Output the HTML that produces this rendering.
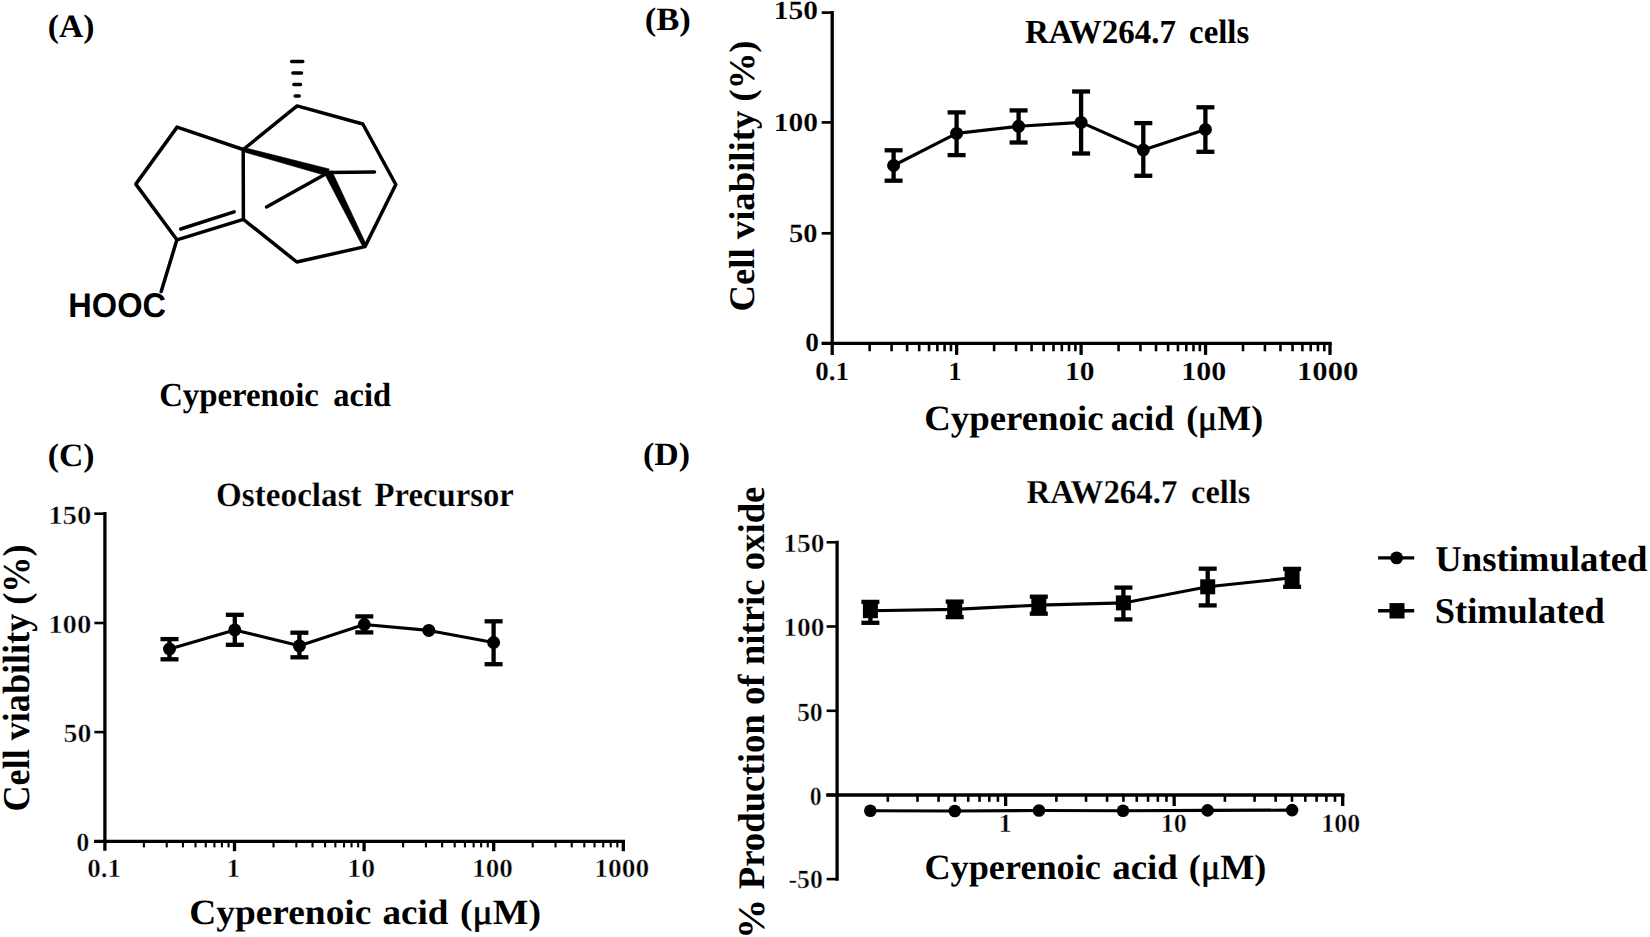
<!DOCTYPE html>
<html lang="en"><head><meta charset="utf-8"><title>Cyperenoic acid figure</title>
<style>
html,body{margin:0;padding:0;background:#fff;}
body{width:1650px;height:937px;overflow:hidden;}
svg{display:block;}
text{font-weight:bold;fill:#000;text-rendering:geometricPrecision;}
</style></head><body>
<svg width="1650" height="937" viewBox="0 0 1650 937">
<rect width="1650" height="937" fill="#fff"/>
<g stroke="#000" fill="none">
<line x1="832.20" y1="10.95" x2="832.20" y2="355.00" stroke-width="3.30" stroke-linecap="butt" />
<line x1="821.70" y1="343.30" x2="1331.70" y2="343.30" stroke-width="3.30" stroke-linecap="butt" />
<line x1="821.70" y1="12.60" x2="832.20" y2="12.60" stroke-width="2.70" stroke-linecap="butt" />
<line x1="821.70" y1="122.40" x2="832.20" y2="122.40" stroke-width="2.70" stroke-linecap="butt" />
<line x1="821.70" y1="233.30" x2="832.20" y2="233.30" stroke-width="2.70" stroke-linecap="butt" />
<line x1="821.70" y1="343.30" x2="832.20" y2="343.30" stroke-width="2.70" stroke-linecap="butt" />
<line x1="956.65" y1="343.30" x2="956.65" y2="354.90" stroke-width="3.30" stroke-linecap="butt" />
<line x1="1081.10" y1="343.30" x2="1081.10" y2="354.90" stroke-width="3.30" stroke-linecap="butt" />
<line x1="1205.55" y1="343.30" x2="1205.55" y2="354.90" stroke-width="3.30" stroke-linecap="butt" />
<line x1="1330.00" y1="343.30" x2="1330.00" y2="354.90" stroke-width="3.30" stroke-linecap="butt" />
<line x1="869.66" y1="343.30" x2="869.66" y2="351.30" stroke-width="2.60" stroke-linecap="butt" />
<line x1="891.58" y1="343.30" x2="891.58" y2="351.30" stroke-width="2.60" stroke-linecap="butt" />
<line x1="907.13" y1="343.30" x2="907.13" y2="351.30" stroke-width="2.60" stroke-linecap="butt" />
<line x1="919.19" y1="343.30" x2="919.19" y2="351.30" stroke-width="2.60" stroke-linecap="butt" />
<line x1="929.04" y1="343.30" x2="929.04" y2="351.30" stroke-width="2.60" stroke-linecap="butt" />
<line x1="937.37" y1="343.30" x2="937.37" y2="351.30" stroke-width="2.60" stroke-linecap="butt" />
<line x1="944.59" y1="343.30" x2="944.59" y2="351.30" stroke-width="2.60" stroke-linecap="butt" />
<line x1="950.96" y1="343.30" x2="950.96" y2="351.30" stroke-width="2.60" stroke-linecap="butt" />
<line x1="994.11" y1="343.30" x2="994.11" y2="351.30" stroke-width="2.60" stroke-linecap="butt" />
<line x1="1016.03" y1="343.30" x2="1016.03" y2="351.30" stroke-width="2.60" stroke-linecap="butt" />
<line x1="1031.58" y1="343.30" x2="1031.58" y2="351.30" stroke-width="2.60" stroke-linecap="butt" />
<line x1="1043.64" y1="343.30" x2="1043.64" y2="351.30" stroke-width="2.60" stroke-linecap="butt" />
<line x1="1053.49" y1="343.30" x2="1053.49" y2="351.30" stroke-width="2.60" stroke-linecap="butt" />
<line x1="1061.82" y1="343.30" x2="1061.82" y2="351.30" stroke-width="2.60" stroke-linecap="butt" />
<line x1="1069.04" y1="343.30" x2="1069.04" y2="351.30" stroke-width="2.60" stroke-linecap="butt" />
<line x1="1075.41" y1="343.30" x2="1075.41" y2="351.30" stroke-width="2.60" stroke-linecap="butt" />
<line x1="1118.56" y1="343.30" x2="1118.56" y2="351.30" stroke-width="2.60" stroke-linecap="butt" />
<line x1="1140.48" y1="343.30" x2="1140.48" y2="351.30" stroke-width="2.60" stroke-linecap="butt" />
<line x1="1156.03" y1="343.30" x2="1156.03" y2="351.30" stroke-width="2.60" stroke-linecap="butt" />
<line x1="1168.09" y1="343.30" x2="1168.09" y2="351.30" stroke-width="2.60" stroke-linecap="butt" />
<line x1="1177.94" y1="343.30" x2="1177.94" y2="351.30" stroke-width="2.60" stroke-linecap="butt" />
<line x1="1186.27" y1="343.30" x2="1186.27" y2="351.30" stroke-width="2.60" stroke-linecap="butt" />
<line x1="1193.49" y1="343.30" x2="1193.49" y2="351.30" stroke-width="2.60" stroke-linecap="butt" />
<line x1="1199.86" y1="343.30" x2="1199.86" y2="351.30" stroke-width="2.60" stroke-linecap="butt" />
<line x1="1243.01" y1="343.30" x2="1243.01" y2="351.30" stroke-width="2.60" stroke-linecap="butt" />
<line x1="1264.93" y1="343.30" x2="1264.93" y2="351.30" stroke-width="2.60" stroke-linecap="butt" />
<line x1="1280.48" y1="343.30" x2="1280.48" y2="351.30" stroke-width="2.60" stroke-linecap="butt" />
<line x1="1292.54" y1="343.30" x2="1292.54" y2="351.30" stroke-width="2.60" stroke-linecap="butt" />
<line x1="1302.39" y1="343.30" x2="1302.39" y2="351.30" stroke-width="2.60" stroke-linecap="butt" />
<line x1="1310.72" y1="343.30" x2="1310.72" y2="351.30" stroke-width="2.60" stroke-linecap="butt" />
<line x1="1317.94" y1="343.30" x2="1317.94" y2="351.30" stroke-width="2.60" stroke-linecap="butt" />
<line x1="1324.31" y1="343.30" x2="1324.31" y2="351.30" stroke-width="2.60" stroke-linecap="butt" />
<line x1="104.90" y1="512.05" x2="104.90" y2="850.80" stroke-width="3.30" stroke-linecap="butt" />
<line x1="94.10" y1="841.40" x2="625.00" y2="841.40" stroke-width="3.30" stroke-linecap="butt" />
<line x1="94.40" y1="513.70" x2="104.90" y2="513.70" stroke-width="2.60" stroke-linecap="butt" />
<line x1="94.40" y1="623.00" x2="104.90" y2="623.00" stroke-width="2.60" stroke-linecap="butt" />
<line x1="94.40" y1="732.10" x2="104.90" y2="732.10" stroke-width="2.60" stroke-linecap="butt" />
<line x1="94.40" y1="841.40" x2="104.90" y2="841.40" stroke-width="2.60" stroke-linecap="butt" />
<line x1="234.50" y1="841.40" x2="234.50" y2="851.20" stroke-width="3.30" stroke-linecap="butt" />
<line x1="364.10" y1="841.40" x2="364.10" y2="851.20" stroke-width="3.30" stroke-linecap="butt" />
<line x1="493.70" y1="841.40" x2="493.70" y2="851.20" stroke-width="3.30" stroke-linecap="butt" />
<line x1="623.30" y1="841.40" x2="623.30" y2="851.20" stroke-width="3.30" stroke-linecap="butt" />
<line x1="143.91" y1="841.40" x2="143.91" y2="847.40" stroke-width="2.10" stroke-linecap="butt" />
<line x1="166.73" y1="841.40" x2="166.73" y2="847.40" stroke-width="2.10" stroke-linecap="butt" />
<line x1="182.93" y1="841.40" x2="182.93" y2="847.40" stroke-width="2.10" stroke-linecap="butt" />
<line x1="195.49" y1="841.40" x2="195.49" y2="847.40" stroke-width="2.10" stroke-linecap="butt" />
<line x1="205.75" y1="841.40" x2="205.75" y2="847.40" stroke-width="2.10" stroke-linecap="butt" />
<line x1="214.42" y1="841.40" x2="214.42" y2="847.40" stroke-width="2.10" stroke-linecap="butt" />
<line x1="221.94" y1="841.40" x2="221.94" y2="847.40" stroke-width="2.10" stroke-linecap="butt" />
<line x1="228.57" y1="841.40" x2="228.57" y2="847.40" stroke-width="2.10" stroke-linecap="butt" />
<line x1="273.51" y1="841.40" x2="273.51" y2="847.40" stroke-width="2.10" stroke-linecap="butt" />
<line x1="296.33" y1="841.40" x2="296.33" y2="847.40" stroke-width="2.10" stroke-linecap="butt" />
<line x1="312.53" y1="841.40" x2="312.53" y2="847.40" stroke-width="2.10" stroke-linecap="butt" />
<line x1="325.09" y1="841.40" x2="325.09" y2="847.40" stroke-width="2.10" stroke-linecap="butt" />
<line x1="335.35" y1="841.40" x2="335.35" y2="847.40" stroke-width="2.10" stroke-linecap="butt" />
<line x1="344.02" y1="841.40" x2="344.02" y2="847.40" stroke-width="2.10" stroke-linecap="butt" />
<line x1="351.54" y1="841.40" x2="351.54" y2="847.40" stroke-width="2.10" stroke-linecap="butt" />
<line x1="358.17" y1="841.40" x2="358.17" y2="847.40" stroke-width="2.10" stroke-linecap="butt" />
<line x1="403.11" y1="841.40" x2="403.11" y2="847.40" stroke-width="2.10" stroke-linecap="butt" />
<line x1="425.93" y1="841.40" x2="425.93" y2="847.40" stroke-width="2.10" stroke-linecap="butt" />
<line x1="442.13" y1="841.40" x2="442.13" y2="847.40" stroke-width="2.10" stroke-linecap="butt" />
<line x1="454.69" y1="841.40" x2="454.69" y2="847.40" stroke-width="2.10" stroke-linecap="butt" />
<line x1="464.95" y1="841.40" x2="464.95" y2="847.40" stroke-width="2.10" stroke-linecap="butt" />
<line x1="473.62" y1="841.40" x2="473.62" y2="847.40" stroke-width="2.10" stroke-linecap="butt" />
<line x1="481.14" y1="841.40" x2="481.14" y2="847.40" stroke-width="2.10" stroke-linecap="butt" />
<line x1="487.77" y1="841.40" x2="487.77" y2="847.40" stroke-width="2.10" stroke-linecap="butt" />
<line x1="532.71" y1="841.40" x2="532.71" y2="847.40" stroke-width="2.10" stroke-linecap="butt" />
<line x1="555.53" y1="841.40" x2="555.53" y2="847.40" stroke-width="2.10" stroke-linecap="butt" />
<line x1="571.73" y1="841.40" x2="571.73" y2="847.40" stroke-width="2.10" stroke-linecap="butt" />
<line x1="584.29" y1="841.40" x2="584.29" y2="847.40" stroke-width="2.10" stroke-linecap="butt" />
<line x1="594.55" y1="841.40" x2="594.55" y2="847.40" stroke-width="2.10" stroke-linecap="butt" />
<line x1="603.22" y1="841.40" x2="603.22" y2="847.40" stroke-width="2.10" stroke-linecap="butt" />
<line x1="610.74" y1="841.40" x2="610.74" y2="847.40" stroke-width="2.10" stroke-linecap="butt" />
<line x1="617.37" y1="841.40" x2="617.37" y2="847.40" stroke-width="2.10" stroke-linecap="butt" />
<line x1="837.10" y1="540.65" x2="837.10" y2="880.75" stroke-width="3.30" stroke-linecap="butt" />
<line x1="826.30" y1="795.00" x2="1344.40" y2="795.00" stroke-width="3.30" stroke-linecap="butt" />
<line x1="826.60" y1="542.30" x2="837.10" y2="542.30" stroke-width="2.60" stroke-linecap="butt" />
<line x1="826.60" y1="626.50" x2="837.10" y2="626.50" stroke-width="2.60" stroke-linecap="butt" />
<line x1="826.60" y1="710.80" x2="837.10" y2="710.80" stroke-width="2.60" stroke-linecap="butt" />
<line x1="826.60" y1="795.00" x2="837.10" y2="795.00" stroke-width="2.60" stroke-linecap="butt" />
<line x1="826.60" y1="879.10" x2="837.10" y2="879.10" stroke-width="2.60" stroke-linecap="butt" />
<line x1="1005.63" y1="795.00" x2="1005.63" y2="806.00" stroke-width="3.30" stroke-linecap="butt" />
<line x1="1174.17" y1="795.00" x2="1174.17" y2="806.00" stroke-width="3.30" stroke-linecap="butt" />
<line x1="1342.70" y1="795.00" x2="1342.70" y2="806.00" stroke-width="3.30" stroke-linecap="butt" />
<line x1="887.83" y1="795.00" x2="887.83" y2="801.80" stroke-width="2.60" stroke-linecap="butt" />
<line x1="917.51" y1="795.00" x2="917.51" y2="801.80" stroke-width="2.60" stroke-linecap="butt" />
<line x1="938.57" y1="795.00" x2="938.57" y2="801.80" stroke-width="2.60" stroke-linecap="butt" />
<line x1="954.90" y1="795.00" x2="954.90" y2="801.80" stroke-width="2.60" stroke-linecap="butt" />
<line x1="968.24" y1="795.00" x2="968.24" y2="801.80" stroke-width="2.60" stroke-linecap="butt" />
<line x1="979.53" y1="795.00" x2="979.53" y2="801.80" stroke-width="2.60" stroke-linecap="butt" />
<line x1="989.30" y1="795.00" x2="989.30" y2="801.80" stroke-width="2.60" stroke-linecap="butt" />
<line x1="997.92" y1="795.00" x2="997.92" y2="801.80" stroke-width="2.60" stroke-linecap="butt" />
<line x1="1056.37" y1="795.00" x2="1056.37" y2="801.80" stroke-width="2.60" stroke-linecap="butt" />
<line x1="1086.04" y1="795.00" x2="1086.04" y2="801.80" stroke-width="2.60" stroke-linecap="butt" />
<line x1="1107.10" y1="795.00" x2="1107.10" y2="801.80" stroke-width="2.60" stroke-linecap="butt" />
<line x1="1123.43" y1="795.00" x2="1123.43" y2="801.80" stroke-width="2.60" stroke-linecap="butt" />
<line x1="1136.78" y1="795.00" x2="1136.78" y2="801.80" stroke-width="2.60" stroke-linecap="butt" />
<line x1="1148.06" y1="795.00" x2="1148.06" y2="801.80" stroke-width="2.60" stroke-linecap="butt" />
<line x1="1157.83" y1="795.00" x2="1157.83" y2="801.80" stroke-width="2.60" stroke-linecap="butt" />
<line x1="1166.46" y1="795.00" x2="1166.46" y2="801.80" stroke-width="2.60" stroke-linecap="butt" />
<line x1="1224.90" y1="795.00" x2="1224.90" y2="801.80" stroke-width="2.60" stroke-linecap="butt" />
<line x1="1254.58" y1="795.00" x2="1254.58" y2="801.80" stroke-width="2.60" stroke-linecap="butt" />
<line x1="1275.63" y1="795.00" x2="1275.63" y2="801.80" stroke-width="2.60" stroke-linecap="butt" />
<line x1="1291.97" y1="795.00" x2="1291.97" y2="801.80" stroke-width="2.60" stroke-linecap="butt" />
<line x1="1305.31" y1="795.00" x2="1305.31" y2="801.80" stroke-width="2.60" stroke-linecap="butt" />
<line x1="1316.59" y1="795.00" x2="1316.59" y2="801.80" stroke-width="2.60" stroke-linecap="butt" />
<line x1="1326.37" y1="795.00" x2="1326.37" y2="801.80" stroke-width="2.60" stroke-linecap="butt" />
<line x1="1334.99" y1="795.00" x2="1334.99" y2="801.80" stroke-width="2.60" stroke-linecap="butt" />
<path d="M893.60 165.50 L956.60 133.40 L1018.60 126.30 L1081.10 122.40 L1143.30 150.00 L1205.40 129.50" fill="none" stroke-width="3.10" stroke-linejoin="round" stroke-linecap="round"/>
<line x1="893.60" y1="150.30" x2="893.60" y2="180.70" stroke-width="4.30" stroke-linecap="butt" />
<line x1="884.60" y1="150.30" x2="902.60" y2="150.30" stroke-width="4.30" stroke-linecap="butt" />
<line x1="884.60" y1="180.70" x2="902.60" y2="180.70" stroke-width="4.30" stroke-linecap="butt" />
<circle cx="893.60" cy="165.50" r="6.50" fill="#000" stroke="none"/>
<line x1="956.60" y1="112.40" x2="956.60" y2="155.10" stroke-width="4.30" stroke-linecap="butt" />
<line x1="947.60" y1="112.40" x2="965.60" y2="112.40" stroke-width="4.30" stroke-linecap="butt" />
<line x1="947.60" y1="155.10" x2="965.60" y2="155.10" stroke-width="4.30" stroke-linecap="butt" />
<circle cx="956.60" cy="133.40" r="6.50" fill="#000" stroke="none"/>
<line x1="1018.60" y1="110.40" x2="1018.60" y2="142.50" stroke-width="4.30" stroke-linecap="butt" />
<line x1="1009.60" y1="110.40" x2="1027.60" y2="110.40" stroke-width="4.30" stroke-linecap="butt" />
<line x1="1009.60" y1="142.50" x2="1027.60" y2="142.50" stroke-width="4.30" stroke-linecap="butt" />
<circle cx="1018.60" cy="126.30" r="6.50" fill="#000" stroke="none"/>
<line x1="1081.10" y1="91.50" x2="1081.10" y2="153.50" stroke-width="4.30" stroke-linecap="butt" />
<line x1="1072.10" y1="91.50" x2="1090.10" y2="91.50" stroke-width="4.30" stroke-linecap="butt" />
<line x1="1072.10" y1="153.50" x2="1090.10" y2="153.50" stroke-width="4.30" stroke-linecap="butt" />
<circle cx="1081.10" cy="122.40" r="6.50" fill="#000" stroke="none"/>
<line x1="1143.30" y1="123.10" x2="1143.30" y2="175.80" stroke-width="4.30" stroke-linecap="butt" />
<line x1="1134.30" y1="123.10" x2="1152.30" y2="123.10" stroke-width="4.30" stroke-linecap="butt" />
<line x1="1134.30" y1="175.80" x2="1152.30" y2="175.80" stroke-width="4.30" stroke-linecap="butt" />
<circle cx="1143.30" cy="150.00" r="6.50" fill="#000" stroke="none"/>
<line x1="1205.40" y1="107.30" x2="1205.40" y2="151.80" stroke-width="4.30" stroke-linecap="butt" />
<line x1="1196.40" y1="107.30" x2="1214.40" y2="107.30" stroke-width="4.30" stroke-linecap="butt" />
<line x1="1196.40" y1="151.80" x2="1214.40" y2="151.80" stroke-width="4.30" stroke-linecap="butt" />
<circle cx="1205.40" cy="129.50" r="6.50" fill="#000" stroke="none"/>
<path d="M169.50 649.00 L234.80 629.90 L299.40 645.80 L364.30 624.50 L428.80 630.40 L493.60 642.50" fill="none" stroke-width="3.10" stroke-linejoin="round" stroke-linecap="round"/>
<line x1="169.50" y1="639.10" x2="169.50" y2="659.30" stroke-width="4.30" stroke-linecap="butt" />
<line x1="160.50" y1="639.10" x2="178.50" y2="639.10" stroke-width="4.30" stroke-linecap="butt" />
<line x1="160.50" y1="659.30" x2="178.50" y2="659.30" stroke-width="4.30" stroke-linecap="butt" />
<circle cx="169.50" cy="649.00" r="6.50" fill="#000" stroke="none"/>
<line x1="234.80" y1="614.80" x2="234.80" y2="644.80" stroke-width="4.30" stroke-linecap="butt" />
<line x1="225.80" y1="614.80" x2="243.80" y2="614.80" stroke-width="4.30" stroke-linecap="butt" />
<line x1="225.80" y1="644.80" x2="243.80" y2="644.80" stroke-width="4.30" stroke-linecap="butt" />
<circle cx="234.80" cy="629.90" r="6.50" fill="#000" stroke="none"/>
<line x1="299.40" y1="632.70" x2="299.40" y2="657.30" stroke-width="4.30" stroke-linecap="butt" />
<line x1="290.40" y1="632.70" x2="308.40" y2="632.70" stroke-width="4.30" stroke-linecap="butt" />
<line x1="290.40" y1="657.30" x2="308.40" y2="657.30" stroke-width="4.30" stroke-linecap="butt" />
<circle cx="299.40" cy="645.80" r="6.50" fill="#000" stroke="none"/>
<line x1="364.30" y1="616.40" x2="364.30" y2="632.40" stroke-width="4.30" stroke-linecap="butt" />
<line x1="355.30" y1="616.40" x2="373.30" y2="616.40" stroke-width="4.30" stroke-linecap="butt" />
<line x1="355.30" y1="632.40" x2="373.30" y2="632.40" stroke-width="4.30" stroke-linecap="butt" />
<circle cx="364.30" cy="624.50" r="6.50" fill="#000" stroke="none"/>
<circle cx="428.80" cy="630.40" r="6.50" fill="#000" stroke="none"/>
<line x1="493.60" y1="621.30" x2="493.60" y2="664.20" stroke-width="4.30" stroke-linecap="butt" />
<line x1="484.60" y1="621.30" x2="502.60" y2="621.30" stroke-width="4.30" stroke-linecap="butt" />
<line x1="484.60" y1="664.20" x2="502.60" y2="664.20" stroke-width="4.30" stroke-linecap="butt" />
<circle cx="493.60" cy="642.50" r="6.50" fill="#000" stroke="none"/>
<path d="M870.40 610.70 L954.70 609.40 L1038.80 605.10 L1123.40 602.90 L1207.70 586.80 L1292.10 577.80" fill="none" stroke-width="3.10" stroke-linejoin="round" stroke-linecap="round"/>
<line x1="870.40" y1="601.90" x2="870.40" y2="622.80" stroke-width="4.30" stroke-linecap="butt" />
<line x1="861.40" y1="601.90" x2="879.40" y2="601.90" stroke-width="4.30" stroke-linecap="butt" />
<line x1="861.40" y1="622.80" x2="879.40" y2="622.80" stroke-width="4.30" stroke-linecap="butt" />
<rect x="862.90" y="603.20" width="15.00" height="15.00" fill="#000" stroke="none"/>
<line x1="954.70" y1="601.60" x2="954.70" y2="617.10" stroke-width="4.30" stroke-linecap="butt" />
<line x1="945.70" y1="601.60" x2="963.70" y2="601.60" stroke-width="4.30" stroke-linecap="butt" />
<line x1="945.70" y1="617.10" x2="963.70" y2="617.10" stroke-width="4.30" stroke-linecap="butt" />
<rect x="947.20" y="601.90" width="15.00" height="15.00" fill="#000" stroke="none"/>
<line x1="1038.80" y1="596.70" x2="1038.80" y2="613.70" stroke-width="4.30" stroke-linecap="butt" />
<line x1="1029.80" y1="596.70" x2="1047.80" y2="596.70" stroke-width="4.30" stroke-linecap="butt" />
<line x1="1029.80" y1="613.70" x2="1047.80" y2="613.70" stroke-width="4.30" stroke-linecap="butt" />
<rect x="1031.30" y="597.60" width="15.00" height="15.00" fill="#000" stroke="none"/>
<line x1="1123.40" y1="587.60" x2="1123.40" y2="619.40" stroke-width="4.30" stroke-linecap="butt" />
<line x1="1114.40" y1="587.60" x2="1132.40" y2="587.60" stroke-width="4.30" stroke-linecap="butt" />
<line x1="1114.40" y1="619.40" x2="1132.40" y2="619.40" stroke-width="4.30" stroke-linecap="butt" />
<rect x="1115.90" y="595.40" width="15.00" height="15.00" fill="#000" stroke="none"/>
<line x1="1207.70" y1="568.70" x2="1207.70" y2="605.40" stroke-width="4.30" stroke-linecap="butt" />
<line x1="1198.70" y1="568.70" x2="1216.70" y2="568.70" stroke-width="4.30" stroke-linecap="butt" />
<line x1="1198.70" y1="605.40" x2="1216.70" y2="605.40" stroke-width="4.30" stroke-linecap="butt" />
<rect x="1200.20" y="579.30" width="15.00" height="15.00" fill="#000" stroke="none"/>
<line x1="1292.10" y1="568.90" x2="1292.10" y2="586.80" stroke-width="4.30" stroke-linecap="butt" />
<line x1="1283.10" y1="568.90" x2="1301.10" y2="568.90" stroke-width="4.30" stroke-linecap="butt" />
<line x1="1283.10" y1="586.80" x2="1301.10" y2="586.80" stroke-width="4.30" stroke-linecap="butt" />
<rect x="1284.60" y="570.30" width="15.00" height="15.00" fill="#000" stroke="none"/>
<path d="M870.30 810.70 L954.80 811.00 L1039.00 810.50 L1123.00 810.70 L1207.60 810.40 L1292.10 810.10" fill="none" stroke-width="3.10" stroke-linejoin="round" stroke-linecap="round"/>
<circle cx="870.30" cy="810.70" r="6.30" fill="#000" stroke="none"/>
<circle cx="954.80" cy="811.00" r="6.30" fill="#000" stroke="none"/>
<circle cx="1039.00" cy="810.50" r="6.30" fill="#000" stroke="none"/>
<circle cx="1123.00" cy="810.70" r="6.30" fill="#000" stroke="none"/>
<circle cx="1207.60" cy="810.40" r="6.30" fill="#000" stroke="none"/>
<circle cx="1292.10" cy="810.10" r="6.30" fill="#000" stroke="none"/>
<line x1="1378.10" y1="557.90" x2="1414.20" y2="557.90" stroke-width="3.40" stroke-linecap="butt" />
<circle cx="1396.6" cy="557.9" r="6.4" fill="#000" stroke="none"/>
<line x1="1378.10" y1="610.80" x2="1414.20" y2="610.80" stroke-width="3.40" stroke-linecap="butt" />
<rect x="1389.5" y="603.1" width="15" height="15.4" fill="#000" stroke="none"/>
<path d="M176.90 239.80 L135.80 184.10 L177.10 127.10 L243.20 149.50 L243.40 219.40 L176.90 239.80" fill="none" stroke-width="3.50" stroke-linejoin="round" stroke-linecap="round"/>
<path d="M176.90 239.80 L161.20 291.50" fill="none" stroke-width="3.50" stroke-linejoin="round" stroke-linecap="round"/>
<path d="M243.20 149.50 L297.10 105.90 L362.80 124.00 L395.80 184.50 L365.00 246.60 L296.80 262.00 L243.40 219.40" fill="none" stroke-width="3.50" stroke-linejoin="round" stroke-linecap="round"/>
<path d="M374.50 172.10 L328.30 172.50 L266.50 207.00" fill="none" stroke-width="3.50" stroke-linejoin="round" stroke-linecap="round"/>
<path d="M180.70 229.00 L234.10 211.90" fill="none" stroke-width="3.50" stroke-linejoin="round" stroke-linecap="round"/>
<path d="M242.65 151.53 L327.36 175.98 L329.24 169.02 L243.75 147.47 Z" fill="#000" stroke="#000" stroke-width="0.6" stroke-linejoin="round"/>
<path d="M324.81 174.23 L363.21 247.49 L366.79 245.71 L331.79 170.77 Z" fill="#000" stroke="#000" stroke-width="0.6" stroke-linejoin="round"/>
<line x1="291.65" y1="61.50" x2="302.75" y2="61.50" stroke-width="3.50" stroke-linecap="round" />
<line x1="292.90" y1="72.90" x2="301.50" y2="72.90" stroke-width="3.50" stroke-linecap="round" />
<line x1="293.90" y1="84.40" x2="300.50" y2="84.40" stroke-width="3.50" stroke-linecap="round" />
<line x1="295.15" y1="96.10" x2="299.25" y2="96.10" stroke-width="3.50" stroke-linecap="round" />
</g>
<g>
<text transform="translate(47.75 36.70) scale(1.0335 1)" font-family='"Liberation Serif", serif' font-size="32.60">(A)</text>
<text transform="translate(644.72 29.90) scale(1.0616 1)" font-family='"Liberation Serif", serif' font-size="32.60">(B)</text>
<text transform="translate(47.75 466.10) scale(1.0335 1)" font-family='"Liberation Serif", serif' font-size="32.60">(C)</text>
<text transform="translate(642.94 464.50) scale(1.0381 1)" font-family='"Liberation Serif", serif' font-size="32.60">(D)</text>
<text transform="translate(68.26 316.80) scale(0.9500 1)" font-family='"Liberation Sans", sans-serif' font-size="34.30">HOOC</text>
<text transform="translate(159.16 405.55) scale(0.9764 1)" font-family='"Liberation Serif", serif' font-size="33.60">Cyperenoic</text>
<text transform="translate(333.28 405.55) scale(0.9679 1)" font-family='"Liberation Serif", serif' font-size="33.60">acid</text>
<text transform="translate(1024.88 43.20) scale(0.9755 1)" font-family='"Liberation Serif", serif' font-size="33.80">RAW264.7</text>
<text transform="translate(1189.08 43.20) scale(0.9701 1)" font-family='"Liberation Serif", serif' font-size="33.80">cells</text>
<text transform="translate(216.04 506.10) scale(0.9760 1)" font-family='"Liberation Serif", serif' font-size="34.00" stroke="#fff" stroke-width="0.20">Osteoclast</text>
<text transform="translate(374.49 506.10) scale(0.9625 1)" font-family='"Liberation Serif", serif' font-size="34.00" stroke="#fff" stroke-width="0.20">Precursor</text>
<text transform="translate(1026.49 502.70) scale(0.9836 1)" font-family='"Liberation Serif", serif' font-size="33.50" stroke="#fff" stroke-width="0.20">RAW264.7</text>
<text transform="translate(1190.99 502.70) scale(0.9688 1)" font-family='"Liberation Serif", serif' font-size="33.50" stroke="#fff" stroke-width="0.20">cells</text>
<text transform="translate(924.27 430.40) scale(1.0368 1)" font-family='"Liberation Serif", serif' font-size="35.50">Cyperenoic</text>
<text transform="translate(1110.69 430.40) scale(1.0020 1)" font-family='"Liberation Serif", serif' font-size="35.50">acid</text>
<text transform="translate(1186.18 430.40) scale(1.0096 1)" font-family='"Liberation Serif", serif' font-size="35.50">(<tspan font-weight="normal" stroke="#000" stroke-width="0.7">μ</tspan>M)</text>
<text transform="translate(189.25 923.80) scale(1.0532 1)" font-family='"Liberation Serif", serif' font-size="35.50">Cyperenoic</text>
<text transform="translate(382.44 923.80) scale(1.0442 1)" font-family='"Liberation Serif", serif' font-size="35.50">acid</text>
<text transform="translate(459.92 923.80) scale(1.0638 1)" font-family='"Liberation Serif", serif' font-size="35.50">(<tspan font-weight="normal" stroke="#000" stroke-width="0.7">μ</tspan>M)</text>
<text transform="translate(924.40 879.20) scale(1.0210 1)" font-family='"Liberation Serif", serif' font-size="35.50">Cyperenoic</text>
<text transform="translate(1112.25 879.20) scale(1.0377 1)" font-family='"Liberation Serif", serif' font-size="35.50">acid</text>
<text transform="translate(1188.87 879.20) scale(1.0164 1)" font-family='"Liberation Serif", serif' font-size="35.50">(<tspan font-weight="normal" stroke="#000" stroke-width="0.7">μ</tspan>M)</text>
<text transform="translate(1435.23 570.60) scale(1.0113 1)" font-family='"Liberation Serif", serif' font-size="36.30">Unstimulated</text>
<text transform="translate(1434.79 622.90) scale(1.0031 1)" font-family='"Liberation Serif", serif' font-size="36.30">Stimulated</text>
<text transform="translate(754.20 311.52) rotate(-90) scale(1.0191 1)" font-family='"Liberation Serif", serif' font-size="36.00">Cell viability (%)</text>
<text transform="translate(28.70 811.49) rotate(-90) scale(0.9510 1)" font-family='"Liberation Serif", serif' font-size="38.00">Cell viability (%)</text>
<text transform="translate(764.30 889.27) rotate(-90) scale(0.9804 1)" font-family='"Liberation Serif", serif' font-size="37.50">Production of nitric oxide</text>
<text transform="translate(764.30 938.98) rotate(-90) scale(1.0765 1)" font-family='"Liberation Serif", serif' font-size="37.50">%</text>
<text transform="translate(773.80 19.20) scale(1.1210 1)" font-family='"Liberation Serif", serif' font-size="26.30" stroke="#fff" stroke-width="0.15">150</text>
<text transform="translate(773.80 130.80) scale(1.1210 1)" font-family='"Liberation Serif", serif' font-size="26.30" stroke="#fff" stroke-width="0.15">100</text>
<text transform="translate(789.11 242.20) scale(1.0829 1)" font-family='"Liberation Serif", serif' font-size="26.30" stroke="#fff" stroke-width="0.15">50</text>
<text transform="translate(805.14 351.20) scale(1.0429 1)" font-family='"Liberation Serif", serif' font-size="26.30" stroke="#fff" stroke-width="0.15">0</text>
<text transform="translate(815.26 380.10) scale(1.0253 1)" font-family='"Liberation Serif", serif' font-size="26.30" stroke="#fff" stroke-width="0.15">0.1</text>
<text transform="translate(948.20 380.10) scale(1.0241 1)" font-family='"Liberation Serif", serif' font-size="26.30" stroke="#fff" stroke-width="0.15">1</text>
<text transform="translate(1064.99 380.10) scale(1.1228 1)" font-family='"Liberation Serif", serif' font-size="26.30" stroke="#fff" stroke-width="0.15">10</text>
<text transform="translate(1181.36 380.10) scale(1.1402 1)" font-family='"Liberation Serif", serif' font-size="26.30" stroke="#fff" stroke-width="0.15">100</text>
<text transform="translate(1297.00 380.10) scale(1.1685 1)" font-family='"Liberation Serif", serif' font-size="26.30" stroke="#fff" stroke-width="0.15">1000</text>
<text transform="translate(48.15 523.60) scale(1.0964 1)" font-family='"Liberation Serif", serif' font-size="26.30" stroke="#fff" stroke-width="0.45">150</text>
<text transform="translate(48.15 633.40) scale(1.0964 1)" font-family='"Liberation Serif", serif' font-size="26.30" stroke="#fff" stroke-width="0.45">100</text>
<text transform="translate(63.53 741.50) scale(1.0586 1)" font-family='"Liberation Serif", serif' font-size="26.30" stroke="#fff" stroke-width="0.45">50</text>
<text transform="translate(76.18 851.00) scale(0.9995 1)" font-family='"Liberation Serif", serif' font-size="26.30" stroke="#fff" stroke-width="0.45">0</text>
<text transform="translate(87.15 876.70) scale(1.0318 1)" font-family='"Liberation Serif", serif' font-size="26.30" stroke="#fff" stroke-width="0.45">0.1</text>
<text transform="translate(226.57 876.70) scale(1.0342 1)" font-family='"Liberation Serif", serif' font-size="26.30" stroke="#fff" stroke-width="0.45">1</text>
<text transform="translate(347.33 876.70) scale(1.0545 1)" font-family='"Liberation Serif", serif' font-size="26.30" stroke="#fff" stroke-width="0.45">10</text>
<text transform="translate(472.08 876.70) scale(1.0335 1)" font-family='"Liberation Serif", serif' font-size="26.30" stroke="#fff" stroke-width="0.45">100</text>
<text transform="translate(594.25 876.70) scale(1.0458 1)" font-family='"Liberation Serif", serif' font-size="26.30" stroke="#fff" stroke-width="0.45">1000</text>
<text transform="translate(783.25 552.20) scale(1.0445 1)" font-family='"Liberation Serif", serif' font-size="26.30" stroke="#fff" stroke-width="0.45">150</text>
<text transform="translate(783.25 636.40) scale(1.0445 1)" font-family='"Liberation Serif", serif' font-size="26.30" stroke="#fff" stroke-width="0.45">100</text>
<text transform="translate(796.89 721.00) scale(0.9856 1)" font-family='"Liberation Serif", serif' font-size="26.30" stroke="#fff" stroke-width="0.45">50</text>
<text transform="translate(809.86 805.00) scale(0.9039 1)" font-family='"Liberation Serif", serif' font-size="26.30" stroke="#fff" stroke-width="0.45">0</text>
<text transform="translate(788.50 887.70) scale(0.9786 1)" font-family='"Liberation Serif", serif' font-size="26.30" stroke="#fff" stroke-width="0.45">-50</text>
<text transform="translate(998.62 832.10) scale(1.0139 1)" font-family='"Liberation Serif", serif' font-size="26.30" stroke="#fff" stroke-width="0.45">1</text>
<text transform="translate(1160.66 832.10) scale(0.9947 1)" font-family='"Liberation Serif", serif' font-size="26.30" stroke="#fff" stroke-width="0.45">10</text>
<text transform="translate(1321.37 832.10) scale(0.9871 1)" font-family='"Liberation Serif", serif' font-size="26.30" stroke="#fff" stroke-width="0.45">100</text>
</g>
</svg>
</body></html>
